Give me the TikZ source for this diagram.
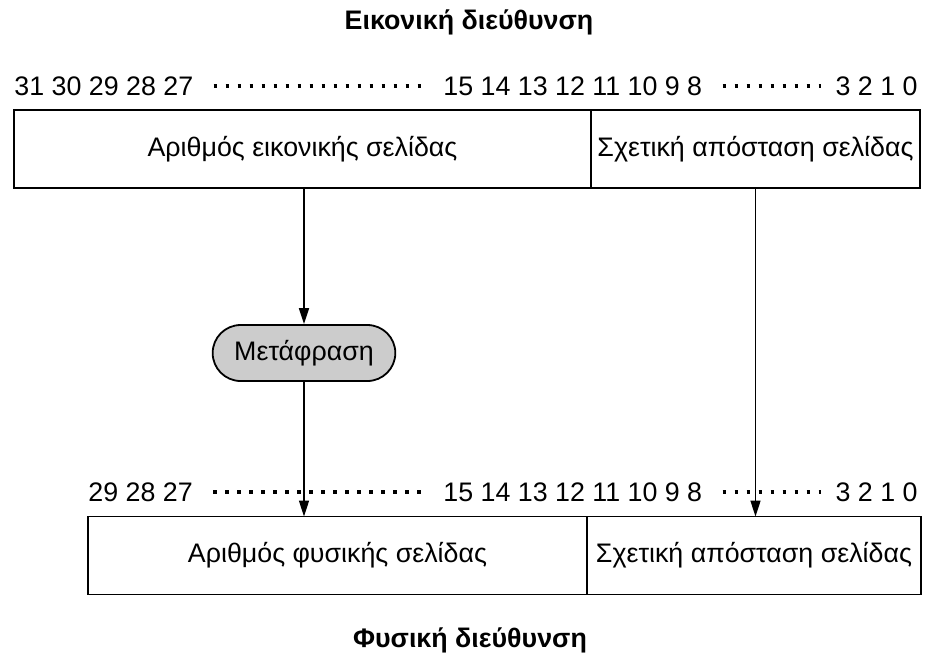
\documentclass[tikz,border=0pt]{standalone}
\usepackage{fontspec}
\setmainfont{Liberation Sans}
\usetikzlibrary{positioning,shapes.misc,arrows.meta}

\begin{document}
\begin{tikzpicture}[x=0.5pt,y=-0.5pt,
      every node/.style={font=\fontsize{13.4}{16}\selectfont},
      title/.style={font=\fontsize{13.4}{16}\selectfont\bfseries},
      field/.style={draw,line width=0.9pt,outer sep=0pt,inner sep=0pt,minimum height=39pt},
      bits/.style={inner sep=0pt},
      bitdots/.style={line width=1.8pt,dash pattern=on 1.8pt off 4.2pt,shorten <=10pt,shorten >=7pt},
      xlate/.style={draw,rounded rectangle,fill=black!20,line width=0.9pt,minimum width=98pt,minimum height=28pt},
      flow/.style={-{Triangle[length=8pt,width=5pt]},line width=0.8pt}]
  %.
  \useasboundingbox (0,0) rectangle (938,661);
  % virtual address
  \node[title] (vtitle) at (469,22) {Εικονική διεύθυνση};
  \node[bits,anchor=west] (vhi) at (14,86) {31 30 29 28 27};
  \node[bits,anchor=west] (vmid) at (443,86) {15 14 13 12 11 10 9 8};
  \node[bits,anchor=east] (vlo) at (918,86) {3 2 1 0};
  \draw[bitdots] (vhi.east) -- (vmid.west);
  \draw[bitdots] (vmid.east) -- (vlo.west);
  \node[field,minimum width=288.5pt] (vpn) at (302.5,149) {Αριθμός εικονικής σελίδας};
  \node[field,minimum width=164.5pt,right=0pt of vpn] (voff) {Σχετική απόσταση σελίδας};
  % translation
  \node[xlate] (trans) at (304,353) {Μετάφραση};
  % physical address
  \node[bits,anchor=west] (phi) at (88,492) {29 28 27};
  \node[bits,anchor=west] (pmid) at (443,492) {15 14 13 12 11 10 9 8};
  \node[bits,anchor=east] (plo) at (918,492) {3 2 1 0};
  \draw[bitdots] (phi.east) -- (pmid.west);
  \draw[bitdots] (pmid.east) -- (plo.west);
  \node[field,minimum width=249.5pt] (ppn) at (337.5,555.5) {Αριθμός φυσικής σελίδας};
  \node[field,minimum width=167pt,right=0pt of ppn] (poff) {Σχετική απόσταση σελίδας};
  \node[title] (ptitle) at (470,640) {Φυσική διεύθυνση};
  % connectors
  \draw[flow] (trans.north |- vpn.south) -- (trans.north);
  \draw[flow] (trans.south) -- (trans.south |- ppn.north);
  \draw[flow] (voff.south) -- (voff.south |- poff.north);
  %.
\end{tikzpicture}
\end{document}
